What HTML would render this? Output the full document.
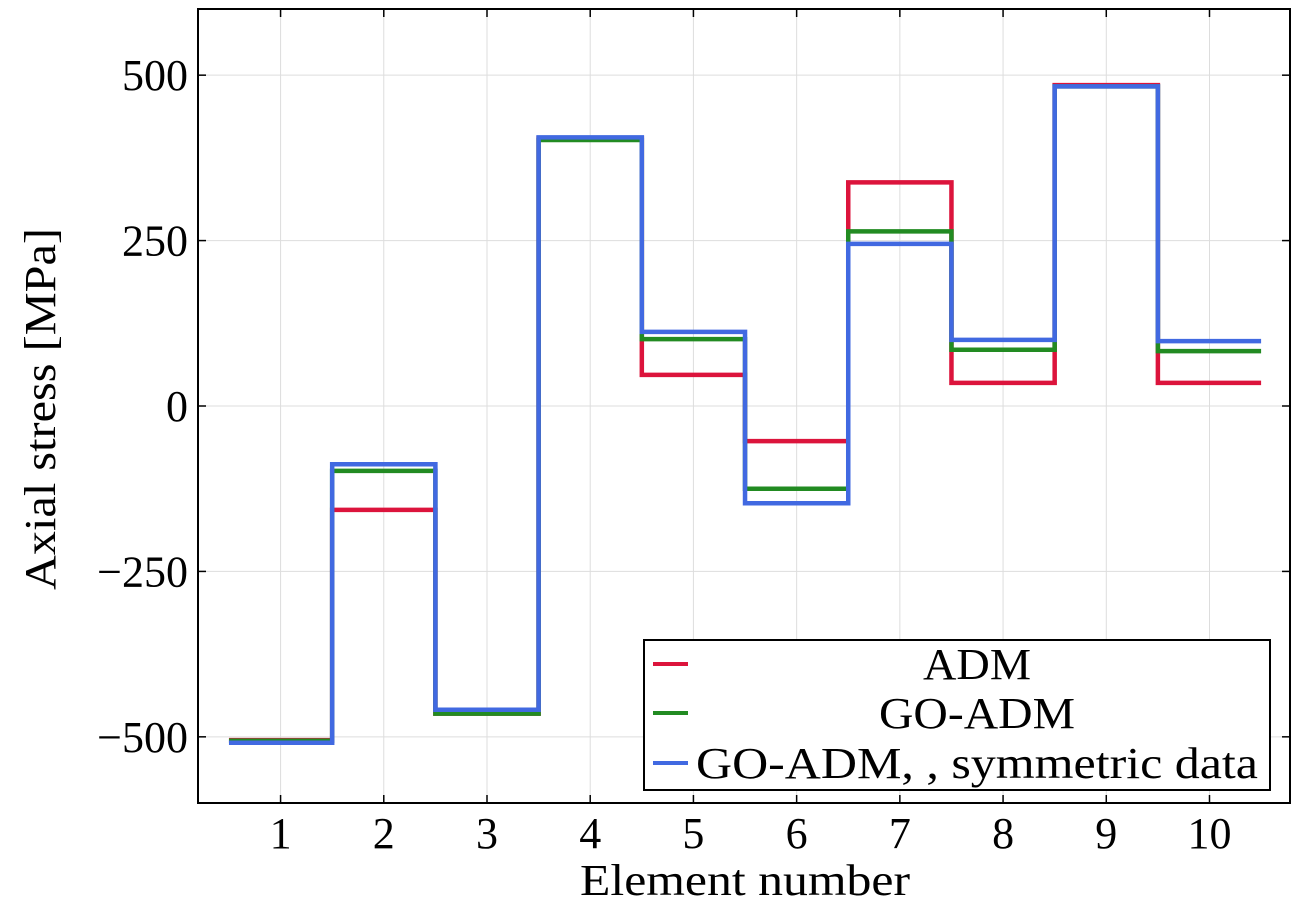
<!DOCTYPE html>
<html><head><meta charset="utf-8"><style>
body{margin:0;background:#fff}
svg text{font-family:"Liberation Serif",serif;fill:#000}
</style></head><body>
<svg width="1303" height="912">
<g id="grid"></g>
<g id="series"></g>
<rect x="198" y="9" width="1092" height="794" fill="none" stroke="#000" stroke-width="2"/>
<g id="ticks"></g>
<text x="745" y="895" font-size="44" text-anchor="middle" textLength="330" lengthAdjust="spacingAndGlyphs">Element number</text>
<text transform="translate(55,409) rotate(-90)" font-size="44" text-anchor="middle" textLength="362" lengthAdjust="spacingAndGlyphs">Axial stress [MPa]</text>
<g>
<rect x="644" y="640" width="626" height="150" fill="#fff" stroke="#000" stroke-width="2"/>
<line x1="653" y1="664" x2="688" y2="664" stroke="#dc143c" stroke-width="4"/>
<text x="977" y="679" font-size="44" text-anchor="middle" textLength="108" lengthAdjust="spacingAndGlyphs">ADM</text>
<line x1="653" y1="713" x2="688" y2="713" stroke="#228b22" stroke-width="4"/>
<text x="977" y="728" font-size="44" text-anchor="middle" textLength="196" lengthAdjust="spacingAndGlyphs">GO-ADM</text>
<line x1="653" y1="763" x2="688" y2="763" stroke="#4169e1" stroke-width="4"/>
<text x="977" y="778" font-size="44" text-anchor="middle" textLength="562" lengthAdjust="spacingAndGlyphs">GO-ADM, , symmetric data</text>
</g>
</svg>
<script>
const elements=[1,2,3,4,5,6,7,8,9,10];
const adm=[-505,-157,-465,405,47,-53,338,35,485,35];
const goAdm=[-506,-98,-465,402,101,-125,264,85,483,83];
const goSym=[-509,-88,-459,406,112,-147,245,100,483,98];
const xTicks=[1,2,3,4,5,6,7,8,9,10];
const yTicks=[-500,-250,0,250,500];
const yLabels=["\u2212500","\u2212250","0","250","500"];
const NS="http://www.w3.org/2000/svg";
const X0=198,X1=1290,Y0=9,Y1=803,xmin=0.2,xmax=10.78,ymin=-600,ymax=600;
const sx=v=>X0+(v-xmin)/(xmax-xmin)*(X1-X0);
const sy=v=>Y1-(v-ymin)/(ymax-ymin)*(Y1-Y0);
function mk(tag,at,parent){const e=document.createElementNS(NS,tag);for(const k in at)e.setAttribute(k,at[k]);document.getElementById(parent).appendChild(e);return e;}
xTicks.forEach((t,i)=>{
 const g=mk('line',{x1:sx(t),x2:sx(t),y1:Y0,y2:Y1,stroke:'#ddd','stroke-width':1},'grid');
 
 
 const a=mk('line',{x1:sx(t),x2:sx(t),y1:Y1,y2:Y1-8,stroke:'#000','stroke-width':1.5},'ticks');
 
 
 const b=mk('line',{x1:sx(t),x2:sx(t),y1:Y0,y2:Y0+8,stroke:'#000','stroke-width':1.5},'ticks');
 
 
 const l=mk('text',{x:sx(t),y:848,'font-size':44,'text-anchor':'middle'},'ticks');
 l.textContent=t;
 
 
});
yTicks.forEach((t,i)=>{
 const g=mk('line',{x1:X0,x2:X1,y1:sy(t),y2:sy(t),stroke:'#ddd','stroke-width':1},'grid');
 
 
 const a=mk('line',{x1:X0,x2:X0+8,y1:sy(t),y2:sy(t),stroke:'#000','stroke-width':1.5},'ticks');
 
 
 const b=mk('line',{x1:X1,x2:X1-8,y1:sy(t),y2:sy(t),stroke:'#000','stroke-width':1.5},'ticks');
 
 
 const l=mk('text',{x:188,y:sy(t)+15,'font-size':44,'text-anchor':'end'},'ticks');
 l.textContent=yLabels[i];
 
 
});
function step(vals,color,name){
 let d='';
 vals.forEach((v,i)=>{const xa=sx(elements[i]-0.5),xb=sx(elements[i]+0.5),y=sy(v);d+=(i?'L':'M')+xa+','+y+'L'+xb+','+y;});
 const p=mk('path',{d:d,fill:'none',stroke:color,'stroke-width':4.5},'series');
 
 
}
step(adm,'#dc143c','adm-line');
step(goAdm,'#228b22','go-adm-line');
step(goSym,'#4169e1','go-adm-symmetric-line');
</script>
</body></html>
